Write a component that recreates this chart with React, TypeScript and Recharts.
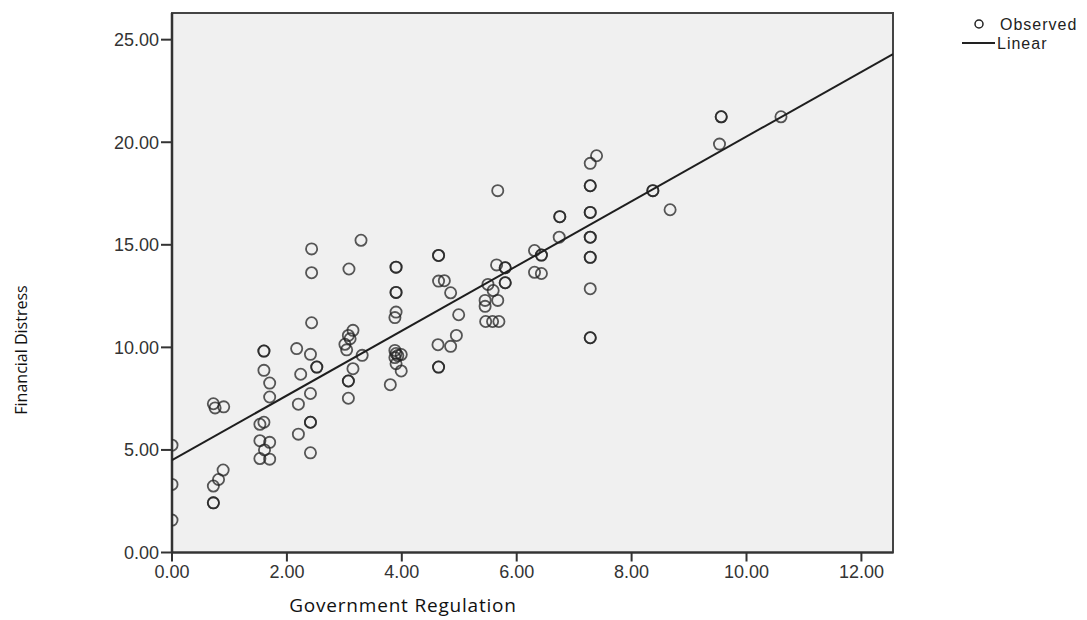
import React from 'react';
import {
    ScatterChart,
    Scatter,
    XAxis,
    YAxis,
    ReferenceArea,
} from 'recharts';

// Government Regulation (x) / Financial Distress (y)
const regulation = [
    0, 0, 0,
    0.72, 0.75, 0.9, 0.72, 0.81, 0.89, 0.72, 0.72,
    1.6, 1.6, 1.6, 1.7, 1.7, 1.53, 1.6, 1.53, 1.7, 1.61, 1.53, 1.7,
    2.17, 2.41, 2.52, 2.52, 2.24, 2.41, 2.2, 2.41, 2.41, 2.2, 2.41, 2.43, 2.43, 2.43,
    3.01, 3.1, 3.04, 3.07, 3.15, 3.15, 3.07, 3.07, 3.07, 3.29, 3.08, 3.31,
    3.9, 3.9, 3.9, 3.9, 3.9, 3.88, 3.88, 3.9, 3.93, 3.88, 3.99, 3.9, 3.99, 3.8,
    4.64, 4.64, 4.64, 4.74, 4.85, 4.99, 4.95, 4.63, 4.85, 4.64, 4.64,
    5.5, 5.65, 5.8, 5.8, 5.8, 5.8, 5.59, 5.67, 5.45, 5.45, 5.46, 5.58, 5.69, 5.67,
    6.31, 6.43, 6.43, 6.31, 6.43, 6.74, 6.75, 6.75,
    7.39, 7.28, 7.28, 7.28, 7.28, 7.28, 7.28, 7.28, 7.28, 7.28, 7.28, 7.28, 7.28,
    8.37, 8.37, 8.67, 9.53, 9.56, 9.56, 10.6,
];
const distress = [
    5.23, 3.32, 1.58,
    7.25, 7.05, 7.1, 3.24, 3.56, 4.02, 2.42, 2.42,
    9.82, 9.82, 8.88, 8.26, 7.58, 6.25, 6.35, 5.45, 5.37, 5.0, 4.58, 4.55,
    9.94, 9.66, 9.04, 9.04, 8.69, 7.75, 7.23, 6.35, 6.35, 5.77, 4.86, 14.8, 13.64, 11.2,
    10.15, 10.42, 9.88, 10.58, 10.83, 8.96, 8.36, 8.36, 7.52, 15.22, 13.82, 9.61,
    13.91, 13.91, 12.68, 12.68, 11.72, 11.45, 9.85, 9.7, 9.6, 9.5, 9.65, 9.2, 8.85, 8.18,
    14.48, 14.48, 13.23, 13.25, 12.66, 11.59, 10.58, 10.13, 10.05, 9.04, 9.04,
    13.07, 14.02, 13.88, 13.88, 13.15, 13.15, 12.77, 12.29, 12.29, 12.0, 11.26, 11.26, 11.26, 17.64,
    14.72, 14.5, 14.5, 13.66, 13.6, 15.37, 16.37, 16.37,
    19.34, 18.97, 17.88, 17.88, 16.58, 16.58, 15.37, 15.37, 14.39, 14.39, 12.86, 10.47, 10.47,
    17.64, 17.64, 16.71, 19.91, 21.24, 21.24, 21.24,
];

// linear fit, drawn across the full x range
const fitX = [0, 12.55];
const fitY = [4.5, 24.3];

const xTicks = [0, 2, 4, 6, 8, 10, 12];
const yTicks = [0, 5, 10, 15, 20, 25];

const observed = regulation.map((x, i) => ({ x, y: distress[i] }));
const linear = fitX.map((x, i) => ({ x, y: fitY[i] }));

const tickFont = { fill: '#333', fontSize: 18, fontFamily: 'Liberation Sans, Arial, sans-serif' };

const Ring = (props: any) => (
    <circle
        cx={props.cx}
        cy={props.cy}
        r={5.6}
        fill="none"
        stroke="#222"
        strokeOpacity={0.75}
        strokeWidth={1.8}
    />
);

export default function App() {
    return (
        <div style={{ position: 'absolute', left: 0, top: 0, width: 1087, height: 620, background: '#fff' }}>
            <ScatterChart width={1087} height={620} margin={{ top: 13, right: 194, bottom: 0, left: 0 }}>
                <ReferenceArea
                    x1={0}
                    x2={12.55}
                    y1={0}
                    y2={26.3}
                    fill="#f0f0f0"
                    fillOpacity={1}
                    stroke="#444"
                    strokeWidth={2}
                />
                <XAxis
                    type="number"
                    dataKey="x"
                    domain={[0, 12.55]}
                    ticks={xTicks}
                    tickFormatter={(v: number) => v.toFixed(2)}
                    tick={tickFont}
                    tickSize={9}
                    tickMargin={4}
                    height={67.5}
                    axisLine={{ stroke: '#333', strokeWidth: 2 }}
                    tickLine={{ stroke: '#333', strokeWidth: 2 }}
                    allowDataOverflow
                />
                <YAxis
                    type="number"
                    dataKey="y"
                    domain={[0, 26.3]}
                    ticks={yTicks}
                    tickFormatter={(v: number) => v.toFixed(2)}
                    tick={tickFont}
                    tickSize={11}
                    tickMargin={2}
                    width={172}
                    axisLine={{ stroke: '#333', strokeWidth: 2.5 }}
                    tickLine={{ stroke: '#333', strokeWidth: 2 }}
                    allowDataOverflow
                />
                <Scatter name="Observed" data={observed} shape={Ring} isAnimationActive={false} />
                <Scatter
                    name="Linear"
                    data={linear}
                    line={{ stroke: '#1e1e1e', strokeWidth: 2 }}
                    shape={() => <g />}
                    isAnimationActive={false}
                />
            </ScatterChart>
            <svg width={1087} height={620} style={{ position: 'absolute', left: 0, top: 0, pointerEvents: 'none' }}>
                <circle cx={979} cy={24} r={4} fill="none" stroke="#222" strokeWidth={1.5} />
                <text x={1000} y={30} fontSize={16} fill="#222" fontFamily="Liberation Sans, Arial, sans-serif" letterSpacing={1}>
                    Observed
                </text>
                <line x1={962} x2={995} y1={43} y2={43} stroke="#222" strokeWidth={1.8} />
                <text x={997} y={49} fontSize={16} fill="#222" fontFamily="Liberation Sans, Arial, sans-serif" letterSpacing={1}>
                    Linear
                </text>
                <text x={403} y={612} fontSize={19} fill="#111" textAnchor="middle" fontFamily="Open Sans, Noto Sans, sans-serif" letterSpacing={0.8}>
                    Government Regulation
                </text>
                <text
                    transform="translate(27 350) rotate(-90)"
                    fontSize={16}
                    fill="#111"
                    textAnchor="middle"
                    fontFamily="Open Sans, Noto Sans, sans-serif"
                >
                    Financial Distress
                </text>
            </svg>
        </div>
    );
}
